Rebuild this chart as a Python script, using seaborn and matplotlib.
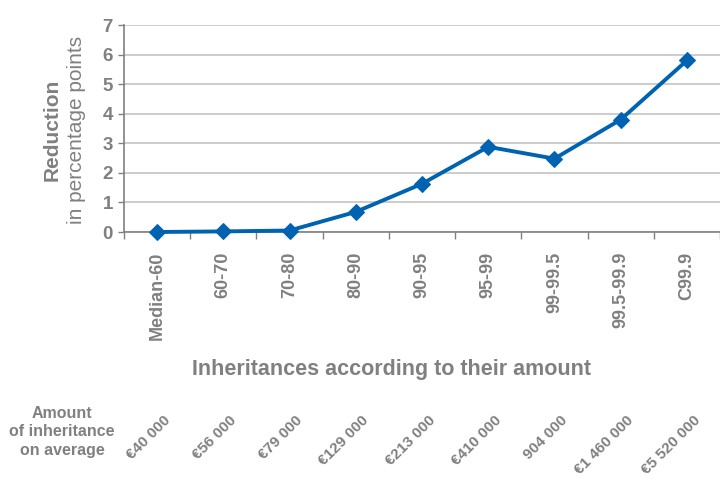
import numpy as np
import pandas as pd
import matplotlib
matplotlib.use("Agg")
import matplotlib.pyplot as plt
import matplotlib.transforms as mtransforms
import seaborn as sns

categories = ["Median-60", "60-70", "70-80", "80-90", "90-95", "95-99",
              "99-99.5", "99.5-99.9", "C99.9"]
reduction = [0.0, 0.02, 0.05, 0.68, 1.63, 2.88, 2.48, 3.80, 5.80]
amounts = ["€40 000", "€56 000", "€79 000", "€129 000", "€213 000",
           "€410 000", "904 000", "€1 460 000", "€5 520 000"]
y_ticks = [0, 1, 2, 3, 4, 5, 6, 7]

sns.set_theme(style="white")
plt.rcParams["font.family"] = ["Liberation Sans", "DejaVu Sans"]

GRAY = "#808080"
BLUE = "#0063B1"

df = pd.DataFrame({"pos": np.arange(len(categories)), "val": reduction})

fig = plt.figure(figsize=(7.2, 4.8), dpi=100)
ax = fig.add_axes([124 / 720, 1 - 232 / 480, 596 / 720, 207 / 480])

sns.lineplot(data=df, x="pos", y="val", ax=ax, color=BLUE, linewidth=2.8,
             marker="D", markersize=8, markeredgecolor=BLUE, sort=False,
             clip_on=False, zorder=5)

ax.set_xlim(-0.5, len(categories) - 0.5)
ax.set_ylim(0, 7)
ax.set_yticks(y_ticks)
ax.set_yticklabels([str(t) for t in y_ticks], fontsize=13.5, fontweight="bold", color=GRAY)
ax.tick_params(axis="y", which="major", length=4, width=1, color=GRAY, pad=4, direction="out", left=True)

# category boundaries as major ticks, labels on minor ticks
ax.set_xticks(np.arange(-0.5, len(categories)))
ax.set_xticklabels([])
ax.set_xticks(np.arange(len(categories)), minor=True)
ax.set_xticklabels(categories, minor=True, rotation=90, fontsize=13,
                   fontweight="bold", color=GRAY, va="top", ha="center")
ax.tick_params(axis="x", which="major", length=5, width=1, color=GRAY, direction="out", bottom=True)
ax.tick_params(axis="x", which="minor", length=0, pad=14)

ax.yaxis.grid(True, color="#C8C8C8", linewidth=1.3)
ax.xaxis.grid(False)
ax.set_axisbelow(True)
for s in ["top", "right"]:
    ax.spines[s].set_visible(False)
for s in ["left", "bottom"]:
    ax.spines[s].set_color(GRAY)
    ax.spines[s].set_linewidth(1.2)

ax.set_xlabel("")
ax.set_ylabel("")

fig.text(392 / 720, 1 - 370 / 480, "Inheritances according to their amount",
         ha="center", va="center", fontsize=15.5, fontweight="bold", color=GRAY)
fig.text(52 / 720, 1 - 130 / 480, "Reduction", rotation=90, ha="center", va="center",
         fontsize=15, fontweight="bold", color=GRAY)
fig.text(76 / 720, 1 - 130 / 480, "in percentage points", rotation=90, ha="center",
         va="center", fontsize=15, color=GRAY)

fig.text(62 / 720, 1 - 432 / 480, "Amount\nof inheritance\non average", ha="center",
         va="center", fontsize=11.5, fontweight="bold", color=GRAY, linespacing=1.3)

trans = mtransforms.blended_transform_factory(ax.transData, fig.transFigure)
for i, a in enumerate(amounts):
    ax.text(i + 0.09, 1 - 413 / 480, a, transform=trans, rotation=45,
            rotation_mode="anchor", ha="right", va="top", fontsize=11,
            fontweight="bold", color=GRAY, clip_on=False)

fig.savefig("out.png", dpi=100)
